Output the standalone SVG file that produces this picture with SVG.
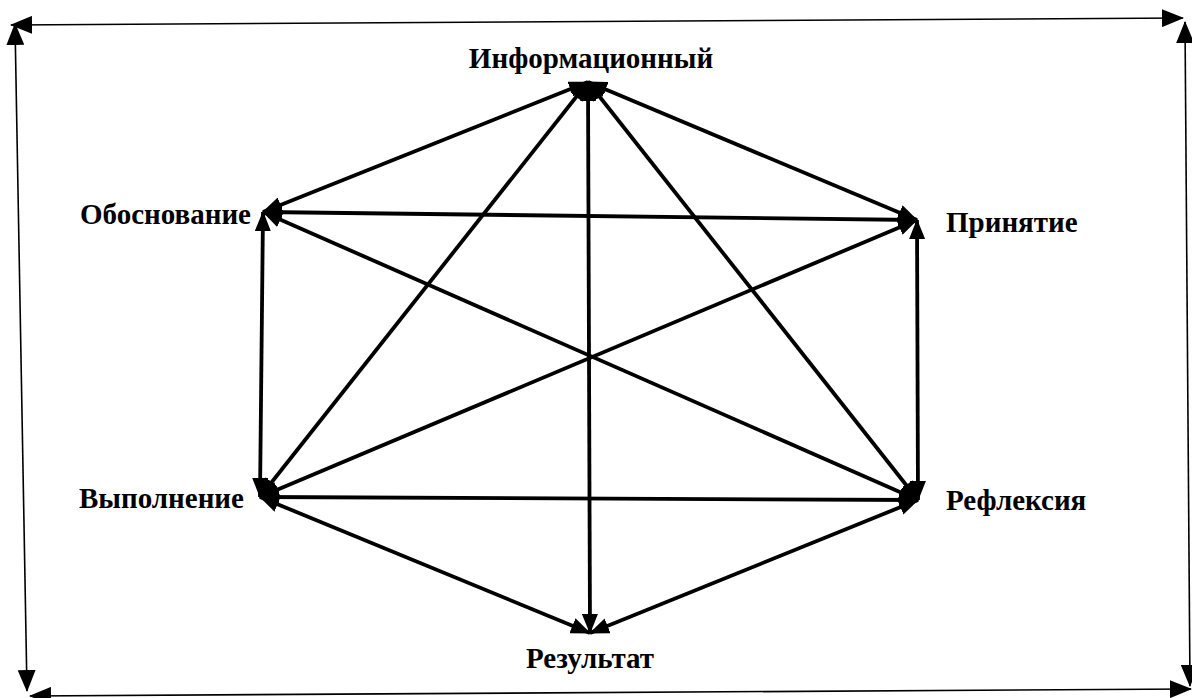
<svg xmlns="http://www.w3.org/2000/svg" width="1192" height="698" viewBox="0 0 1192 698">
<defs>
<style>
.lbl{font-family:"Liberation Serif","Times New Roman",serif;font-weight:bold;font-size:29px;fill:#000}
.edge{stroke:#000;stroke-width:3.8;fill:none;marker-start:url(#ah);marker-end:url(#ah)}
.frame{stroke:#000;stroke-width:1.6;fill:none;marker-start:url(#fh);marker-end:url(#fh)}
</style>
<marker id="ah" viewBox="0 0 20 16" refX="19" refY="8" markerWidth="20" markerHeight="16" markerUnits="userSpaceOnUse" orient="auto-start-reverse">
<path d="M0,0 L20,8 L0,16 z" fill="#000"/>
</marker>
<marker id="fh" viewBox="0 0 22 18" refX="21" refY="9" markerWidth="22" markerHeight="18" markerUnits="userSpaceOnUse" orient="auto-start-reverse">
<path d="M0,0 L22,9 L0,18 z" fill="#000"/>
</marker>
</defs>
<rect width="1192" height="698" fill="#fff"/>
<g id="frame">
<line class="frame" x1="11" y1="25" x2="1183" y2="18"/>
<line class="frame" x1="15" y1="24" x2="27" y2="691"/>
<line class="frame" x1="30" y1="696" x2="1191" y2="689"/>
<line class="frame" x1="1185" y1="22" x2="1190" y2="686"/>
</g>
<g id="connectors">
<line class="edge" x1="588" y1="82" x2="263" y2="212"/>
<line class="edge" x1="588" y1="82" x2="917" y2="220"/>
<line class="edge" x1="588" y1="82" x2="260" y2="497"/>
<line class="edge" x1="588" y1="82" x2="918" y2="500"/>
<line class="edge" x1="588" y1="82" x2="590" y2="633"/>
<line class="edge" x1="263" y1="212" x2="917" y2="220"/>
<line class="edge" x1="263" y1="212" x2="260" y2="497"/>
<line class="edge" x1="263" y1="212" x2="918" y2="500"/>
<line class="edge" x1="917" y1="220" x2="260" y2="497"/>
<line class="edge" x1="917" y1="220" x2="918" y2="500"/>
<line class="edge" x1="260" y1="497" x2="918" y2="500"/>
<line class="edge" x1="260" y1="497" x2="590" y2="633"/>
<line class="edge" x1="918" y1="500" x2="590" y2="633"/>
</g>
<g id="node-info"><text class="lbl" x="591" y="68" text-anchor="middle">Информационный</text></g>
<g id="node-obosnovanie"><text class="lbl" x="80" y="224">Обоснование</text></g>
<g id="node-prinyatie"><text class="lbl" x="946" y="232">Принятие</text></g>
<g id="node-vypolnenie"><text class="lbl" x="79" y="508">Выполнение</text></g>
<g id="node-refleksiya"><text class="lbl" x="946" y="510">Рефлексия</text></g>
<g id="node-rezultat"><text class="lbl" x="590" y="668" text-anchor="middle">Результат</text></g>
</svg>
